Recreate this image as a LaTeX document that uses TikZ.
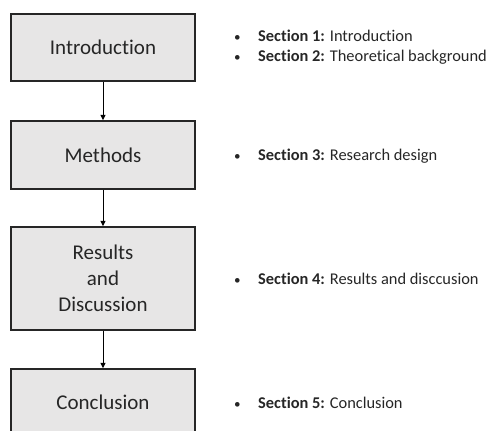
\documentclass[tikz,border=0pt]{standalone}
\usepackage{fontspec}
\setmainfont{Carlito}[RawFeature={-liga}]
\usetikzlibrary{arrows.meta}
\definecolor{boxfill}{HTML}{E7E6E6}
\definecolor{boxline}{HTML}{262626}
\begin{document}
\begin{tikzpicture}[x=1pt,y=-1pt,
  stage/.style={draw=boxline,line width=1.4pt,fill=boxfill,minimum width=184pt,
    minimum height=67pt,inner sep=0pt,align=center,font=\fontsize{21}{26}\selectfont,text=black!85},
  flow/.style={draw=black,line width=1pt,-{Triangle[length=5.5pt,width=5pt]}},
  item/.style={anchor=west,inner sep=0pt,font=\fontsize{16.4}{20}\selectfont,text=black!85,align=left}]
\useasboundingbox (0,0) rectangle (491,431);
\clip (0,0) rectangle (491,431);
% stages of the thesis
\node[stage] (intro) at (103,47.5) {Introduction};
\node[stage,minimum height=68pt] (meth) at (103,155) {Methods};
\node[stage,minimum height=103pt] (res) at (103,278.5) {Results\\and\\Discussion};
\node[stage] (conc) at (103,402.5) {Conclusion};
% flow between stages
\draw[flow] (intro) -- (meth);
\draw[flow] (meth) -- (res);
\draw[flow] (res) -- (conc);
% section lists
\newcommand{\bul}{\makebox[25pt][l]{\hspace{1pt}\scalebox{0.8}{\textbullet}}}
\node[item] (s12) at (233,47) {\bul\textbf{Section 1:} Introduction\\\bul\textbf{Section 2:} Theoretical background};
\node[item] (s3) at (233,156) {\bul\textbf{Section 3:} Research design};
\node[item] (s4) at (233,279) {\bul\textbf{Section 4:} Results and disccusion};
\node[item] (s5) at (233,403) {\bul\textbf{Section 5:} Conclusion};
\end{tikzpicture}
\end{document}
